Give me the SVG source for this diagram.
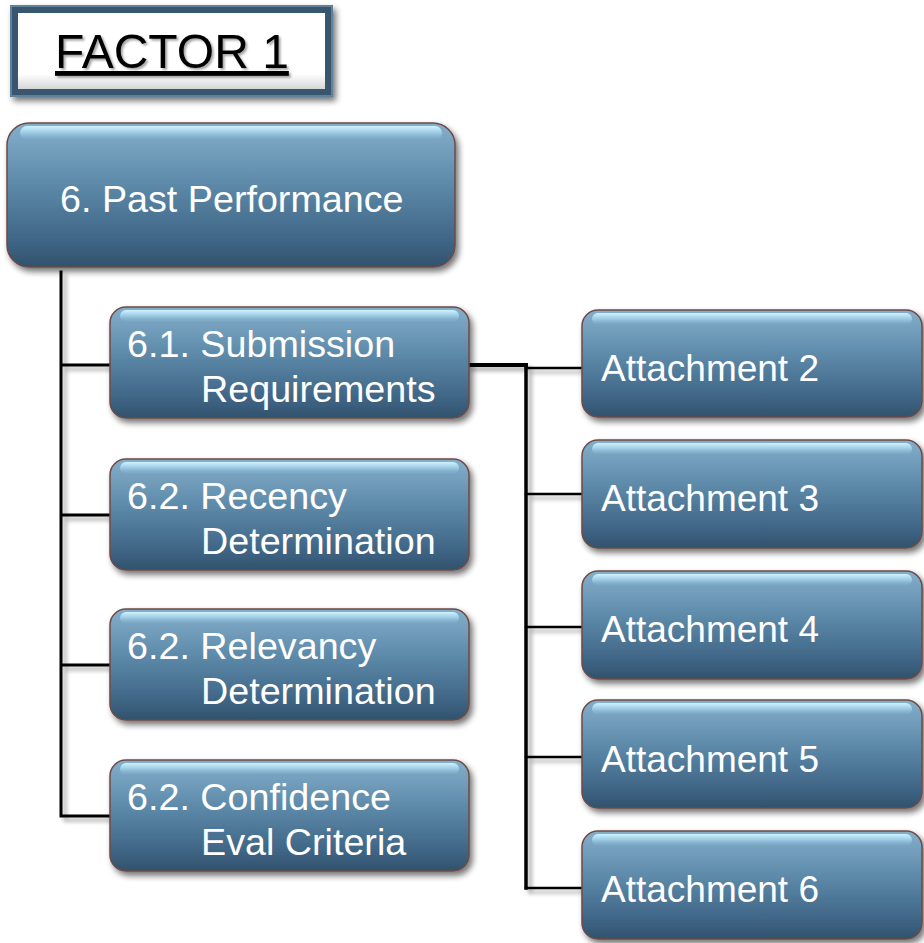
<svg xmlns="http://www.w3.org/2000/svg" width="924" height="943" viewBox="0 0 924 943">
  <defs>
    <linearGradient id="boxFill" x1="0" y1="0" x2="0" y2="1">
      <stop offset="0" stop-color="#84afcb"/>
      <stop offset="0.45" stop-color="#5b87a7"/>
      <stop offset="0.85" stop-color="#3d6282"/>
      <stop offset="1" stop-color="#31526c"/>
    </linearGradient>
    <linearGradient id="gloss" x1="0" y1="0" x2="0" y2="1">
      <stop offset="0" stop-color="#d2f3ff" stop-opacity="1"/>
      <stop offset="0.45" stop-color="#b0def4" stop-opacity="0.7"/>
      <stop offset="1" stop-color="#8fc0de" stop-opacity="0"/>
    </linearGradient>
    <linearGradient id="frameInner" x1="0" y1="0" x2="0" y2="1">
      <stop offset="0" stop-color="#ffffff"/>
      <stop offset="0.8" stop-color="#ffffff"/>
      <stop offset="1" stop-color="#d6d6d6"/>
    </linearGradient>
    <filter id="shadow" x="-10%" y="-10%" width="125%" height="135%">
      <feGaussianBlur in="SourceAlpha" stdDeviation="3"/>
      <feOffset dx="3" dy="4" result="b"/>
      <feComponentTransfer><feFuncA type="linear" slope="0.55"/></feComponentTransfer>
      <feMerge><feMergeNode/><feMergeNode in="SourceGraphic"/></feMerge>
    </filter>
    <filter id="lineShadow" x="-10%" y="-10%" width="130%" height="130%">
      <feGaussianBlur in="SourceAlpha" stdDeviation="2"/>
      <feOffset dx="4" dy="4" result="b"/>
      <feComponentTransfer><feFuncA type="linear" slope="0.35"/></feComponentTransfer>
      <feMerge><feMergeNode/><feMergeNode in="SourceGraphic"/></feMerge>
    </filter>
    <filter id="textShadow" x="-5%" y="-20%" width="115%" height="150%">
      <feGaussianBlur in="SourceAlpha" stdDeviation="1.2"/>
      <feOffset dx="2" dy="2" result="b"/>
      <feComponentTransfer><feFuncA type="linear" slope="0.35"/></feComponentTransfer>
      <feMerge><feMergeNode/><feMergeNode in="SourceGraphic"/></feMerge>
    </filter>
  </defs>
  <style>
    .box { fill: url(#boxFill); stroke: #6e4a46; stroke-width: 1.5; filter: url(#shadow); }
    .gloss { fill: url(#gloss); }
    .lbl { font-family: "Liberation Sans", Arial, sans-serif; font-size: 37.7px; fill: #ffffff; }
    .att { font-size: 37px; }
    .conn { fill: none; stroke: #000000; stroke-linecap: square; }
  </style>
  <rect width="924" height="943" fill="#ffffff"/>

  <g id="factor1">
    <rect x="10" y="5" width="323" height="92" fill="#37576f" filter="url(#shadow)"/>
    <rect x="11" y="6" width="321" height="90" fill="none" stroke="#6f8fa6" stroke-width="1.5"/>
    <rect x="18" y="13" width="307" height="76" fill="url(#frameInner)"/>
    <text x="55" y="68" font-family="Liberation Sans, Arial, sans-serif" font-size="48" fill="#000000" text-decoration="underline" filter="url(#textShadow)">FACTOR 1</text>
  </g>

  <g id="connectors">
    <g filter="url(#lineShadow)">
      <path class="conn" stroke-width="3" d="M61 272 V816 M61 365 H110 M61 515 H110 M61 665 H110 M61 816 H110"/>
      <path class="conn" stroke-width="4" d="M469 365 H526"/>
      <path class="conn" stroke-width="3.5" d="M526 365 V888"/>
      <path class="conn" stroke-width="2.5" d="M526 368 H582 M526 494 H582 M526 627 H582 M526 757 H582 M526 888 H582"/>
    </g>
  </g>

  <g id="n6">
    <rect class="box" x="7" y="123" width="448" height="144" rx="22"/>
    <rect class="gloss" x="20" y="126" width="422" height="14" rx="7"/>
    <text class="lbl" x="60" y="212">6. Past Performance</text>
  </g>

  <g id="n61">
    <rect class="box" x="110" y="307" width="359" height="111" rx="16"/>
    <rect class="gloss" x="120" y="310" width="339" height="12" rx="6"/>
    <text class="lbl" x="127" y="357">6.1. Submission</text>
    <text class="lbl" x="201" y="402">Requirements</text>
  </g>

  <g id="n62a">
    <rect class="box" x="110" y="459" width="359" height="111" rx="16"/>
    <rect class="gloss" x="120" y="462" width="339" height="12" rx="6"/>
    <text class="lbl" x="127" y="509">6.2. Recency</text>
    <text class="lbl" x="201" y="554">Determination</text>
  </g>

  <g id="n62b">
    <rect class="box" x="110" y="609" width="359" height="111" rx="16"/>
    <rect class="gloss" x="120" y="612" width="339" height="12" rx="6"/>
    <text class="lbl" x="127" y="659">6.2. Relevancy</text>
    <text class="lbl" x="201" y="704">Determination</text>
  </g>

  <g id="n62c">
    <rect class="box" x="110" y="760" width="359" height="111" rx="16"/>
    <rect class="gloss" x="120" y="763" width="339" height="12" rx="6"/>
    <text class="lbl" x="127" y="810">6.2. Confidence</text>
    <text class="lbl" x="201" y="855">Eval Criteria</text>
  </g>

  <g id="att2">
    <rect class="box" x="582" y="310" width="340" height="107" rx="16"/>
    <rect class="gloss" x="592" y="313" width="320" height="12" rx="6"/>
    <text class="lbl att" x="601" y="381">Attachment 2</text>
  </g>
  <g id="att3">
    <rect class="box" x="582" y="440" width="340" height="108" rx="16"/>
    <rect class="gloss" x="592" y="443" width="320" height="12" rx="6"/>
    <text class="lbl att" x="601" y="511">Attachment 3</text>
  </g>
  <g id="att4">
    <rect class="box" x="582" y="571" width="340" height="108" rx="16"/>
    <rect class="gloss" x="592" y="574" width="320" height="12" rx="6"/>
    <text class="lbl att" x="601" y="642">Attachment 4</text>
  </g>
  <g id="att5">
    <rect class="box" x="582" y="700" width="340" height="108" rx="16"/>
    <rect class="gloss" x="592" y="703" width="320" height="12" rx="6"/>
    <text class="lbl att" x="601" y="772">Attachment 5</text>
  </g>
  <g id="att6">
    <rect class="box" x="582" y="831" width="340" height="108" rx="16"/>
    <rect class="gloss" x="592" y="834" width="320" height="12" rx="6"/>
    <text class="lbl att" x="601" y="902">Attachment 6</text>
  </g>
</svg>
